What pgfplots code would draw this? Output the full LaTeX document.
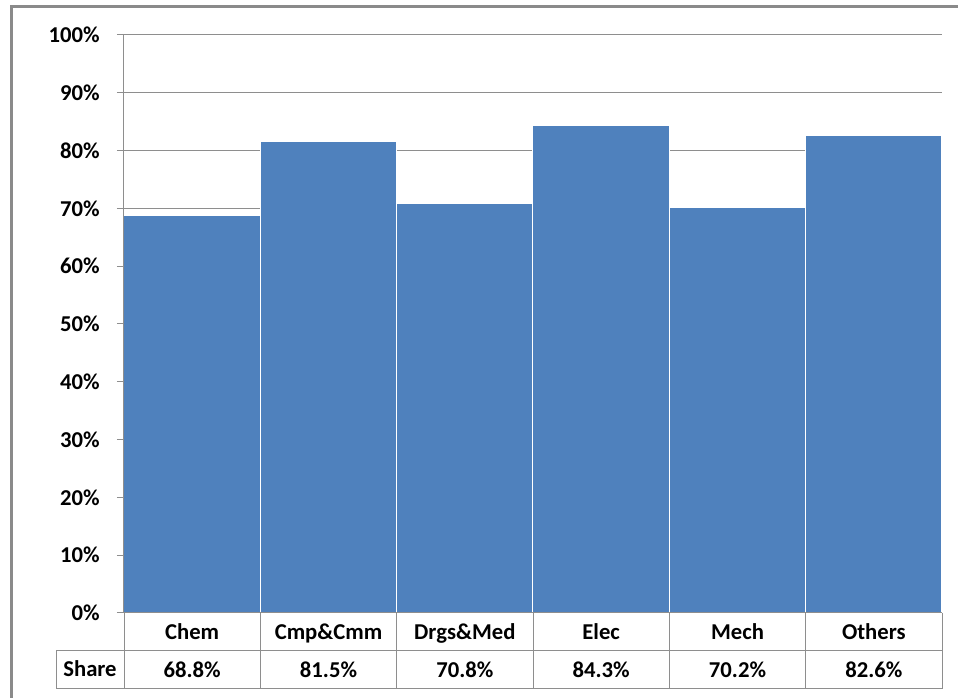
\documentclass[border=0pt]{standalone}
\usepackage{pgfplots}
\pgfplotsset{compat=1.18}
\usepackage{fontspec}
\setmainfont{Carlito}
\definecolor{barblue}{HTML}{4F81BD}
\definecolor{gridgray}{HTML}{8E8E8E}
\definecolor{bordergray}{HTML}{8A8A8A}
\newcommand{\lbl}{\bfseries\fontsize{17}{20}\selectfont}
\begin{document}
\begin{tikzpicture}
\begin{scope}[x=0.75pt,y=-0.75pt]
\path[use as bounding box] (0,0) rectangle (958,698);
\fill[white] (0,0) rectangle (958,698);
\draw[bordergray, line width=2.25pt] (11,700) -- (11,7) -- (960,7);
\end{scope}
\begin{axis}[
  at={(93pt,-459.75pt)}, anchor=south west,
  width=613.5pt, height=433.5pt, scale only axis,
  xmin=0, xmax=6, ymin=0, ymax=100,
  ybar, bar width=1,
  axis line style={draw=none},
  ytick={0,10,...,100},
  yticklabel={\pgfmathprintnumber{\tick}\%},
  yticklabel style={font=\lbl, anchor=east, inner sep=0pt, xshift=-12.75pt},
  /pgf/number format/assume math mode=true,
  xtick=\empty,
  ymajorgrids, major grid style={gridgray, line width=0.75pt},
  ytick pos=left, tick align=outside, major tick length=5.25pt,
  tick style={gridgray, line width=0.75pt},
  clip=false,
]
\addplot[fill=barblue, draw=white, line width=0.75pt] coordinates {
  (0.5,68.8) (1.5,81.5) (2.5,70.8) (3.5,84.3) (4.5,70.2) (5.5,82.6)};
\draw[gridgray, line width=0.75pt] (rel axis cs:0,1) -- (rel axis cs:0,0) -- (rel axis cs:1,0);
\end{axis}
\begin{scope}[x=0.75pt,y=-0.75pt]
\draw[gridgray, line width=0.75pt] (56,651) -- (942,651) (56,689) -- (942,689) (56,651) -- (56,689);
\foreach \xx in {124,260.33,396.67,533,669.33,805.67,942}
  \draw[gridgray, line width=0.75pt] (\xx,613) -- (\xx,689);
\node[anchor=base, font=\lbl, inner sep=0pt] at (90,677) {Share};
\foreach \cx/\cat/\val in {192.17/Chem/68.8\%, 328.5/Cmp\&Cmm/81.5\%, 464.83/Drgs\&Med/70.8\%, 601.17/Elec/84.3\%, 737.5/Mech/70.2\%, 873.83/Others/82.6\%}{
  \node[anchor=base, font=\lbl, inner sep=0pt] at (\cx,640) {\cat};
  \node[anchor=base, font=\lbl, inner sep=0pt] at (\cx,678) {\val};
}
\end{scope}
\end{tikzpicture}
\end{document}
